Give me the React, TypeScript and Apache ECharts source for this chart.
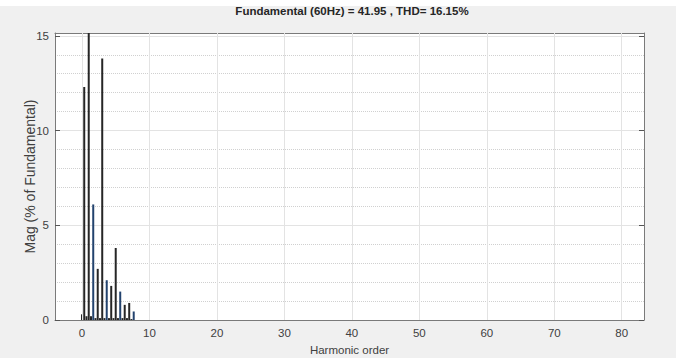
import React, { useEffect, useRef } from "react";
import * as echarts from "echarts";

const titleText = "Fundamental (60Hz) = 41.95 , THD= 16.15%";
const xAxisTitle = "Harmonic order";
const yAxisTitle = "Mag (% of Fundamental)";

// FFT bins (harmonic order, 1/3 resolution)
const harmonicOrder = [
  0, 0.333, 0.667, 1, 1.333, 1.667, 2, 2.333, 2.667, 3, 3.333, 3.667,
  4, 4.333, 4.667, 5, 5.333, 5.667, 6, 6.333, 6.667, 7, 7.333, 7.667,
];
// Magnitude in % of fundamental
const magnitude = [
  0.3, 12.3, 0.2, 100, 0.2, 6.1, 0.1, 2.7, 0.1, 13.8, 0.1, 2.1,
  0.1, 1.8, 0.1, 3.8, 0.1, 1.5, 0.1, 0.8, 0.1, 0.9, 0.05, 0.45,
];

const xTickValues = [0, 10, 20, 30, 40, 50, 60, 70, 80];
const yTickValues = [0, 5, 10, 15];

const FONT = "'Liberation Sans', Arial, sans-serif";

export default function App() {
  const ref = useRef<HTMLDivElement>(null);

  useEffect(() => {
    if (!ref.current) return;
    const chart = echarts.init(ref.current, null, { renderer: "svg" });

    const axisLineColor = "#7a7a7a";
    const tickColor = "#555";
    const labelColor = "#404040";

    const option: any = {
      animation: false,
      backgroundColor: "#f0f0f0",
      graphic: [
        {
          type: "rect",
          shape: { x: 0, y: 0, width: 676, height: 6 },
          style: { fill: "#ffffff" },
          silent: true,
          z: 0,
        },
        {
          type: "text",
          x: 352,
          y: 11,
          style: {
            text: titleText,
            font: `bold 11.5px ${FONT}`,
            fill: "#262626",
            textAlign: "center",
            textVerticalAlign: "middle",
          },
          z: 10,
        },
      ],
      grid: {
        left: 55,
        right: 32,
        top: 33,
        bottom: 38,
        show: true,
        backgroundColor: "#ffffff",
        borderWidth: 0,
        containLabel: false,
        outerBoundsMode: "none",
      },
      xAxis: [
        {
          type: "value",
          position: "bottom",
          min: -4,
          max: 83.3,
          interval: 2,
          name: xAxisTitle,
          nameLocation: "middle",
          nameGap: 23,
          nameTextStyle: { fontFamily: FONT, fontSize: 11.5, color: labelColor },
          axisLine: { show: true, onZero: false, lineStyle: { color: axisLineColor, width: 1 } },
          axisTick: {
            show: true,
            inside: true,
            length: 5,
            customValues: xTickValues,
            lineStyle: { color: tickColor },
          },
          axisLabel: {
            show: true,
            customValues: xTickValues,
            margin: 7,
            fontFamily: FONT,
            fontSize: 11.5,
            color: labelColor,
            formatter: (v: number) => (v % 10 === 0 && v >= 0 ? String(v) : ""),
          },
          splitLine: {
            show: true,
            lineStyle: { color: "#d0d0d0", type: "dotted", width: 1 },
          },
        },
        {
          type: "value",
          position: "top",
          min: -4,
          max: 83.3,
          interval: 2,
          axisLine: { show: true, onZero: false, lineStyle: { color: axisLineColor, width: 1 } },
          axisTick: {
            show: true,
            inside: true,
            length: 5,
            customValues: xTickValues,
            lineStyle: { color: tickColor },
          },
          axisLabel: { show: false },
          splitLine: { show: false },
        },
      ],
      yAxis: [
        {
          type: "value",
          position: "left",
          min: 0,
          max: 15.15,
          interval: 5,
          name: yAxisTitle,
          nameLocation: "middle",
          nameGap: 18,
          nameMoveOverlap: false,
          nameRotate: 90,
          nameTextStyle: { fontFamily: FONT, fontSize: 14, color: labelColor },
          axisLine: { show: true, onZero: false, lineStyle: { color: axisLineColor, width: 1 } },
          axisTick: {
            show: true,
            inside: true,
            length: 5,
            customValues: yTickValues,
            lineStyle: { color: tickColor },
          },
          axisLabel: {
            show: true,
            customValues: yTickValues,
            margin: 6,
            fontFamily: FONT,
            fontSize: 11.5,
            color: labelColor,
          },
          splitLine: {
            show: true,
            lineStyle: { color: "#e3e3e3", type: "solid", width: 1 },
          },
          minorTick: { show: false, splitNumber: 5 },
          minorSplitLine: {
            show: true,
            lineStyle: { color: "#d0d0d0", type: "dotted", width: 1 },
          },
        },
        {
          type: "value",
          position: "right",
          min: 0,
          max: 15.15,
          interval: 5,
          axisLine: { show: true, onZero: false, lineStyle: { color: axisLineColor, width: 1 } },
          axisTick: {
            show: true,
            inside: true,
            length: 5,
            customValues: yTickValues,
            lineStyle: { color: tickColor },
          },
          axisLabel: { show: false },
          splitLine: { show: false },
        },
      ],
      series: [
        {
          type: "line",
          xAxisIndex: 0,
          yAxisIndex: 0,
          data: [],
          z: 1,
          silent: true,
          markLine: {
            silent: true,
            symbol: ["none", "none"],
            label: { show: false },
            animation: false,
            lineStyle: { color: "#e3e3e3", type: "solid", width: 1 },
            data: xTickValues.map((v) => ({ xAxis: v })),
          },
        },
        {
          type: "bar",
          xAxisIndex: 0,
          yAxisIndex: 0,
          barWidth: 2,
          clip: true,
          z: 3,
          data: harmonicOrder.map((h, i) => [h, magnitude[i]]),
          itemStyle: {
            color: (p: any) => (p.dataIndex % 6 === 5 ? "#23436e" : "#262626"),
          },
        },
      ],
    };

    chart.setOption(option);
    return () => chart.dispose();
  }, []);

  return (
    <div
      ref={ref}
      style={{ position: "fixed", left: 0, top: 0, width: 676, height: 358 }}
    />
  );
}
